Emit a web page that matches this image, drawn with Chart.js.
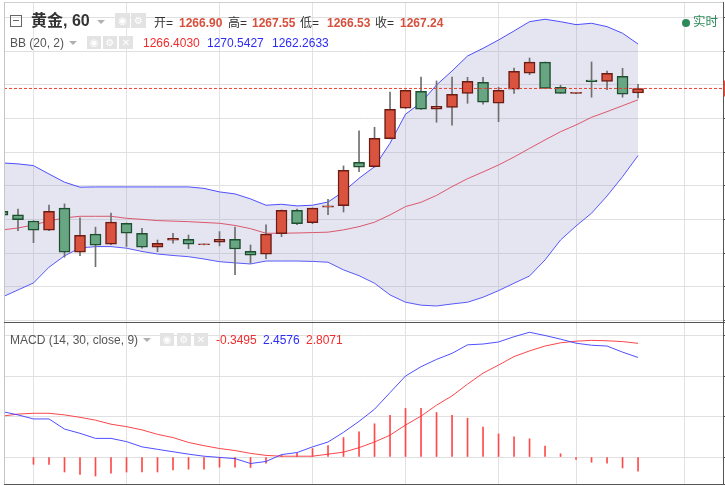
<!DOCTYPE html>
<html><head><meta charset="utf-8">
<script src="https://cdn.jsdelivr.net/npm/chart.js@4.4.0/dist/chart.umd.min.js"></script>
<style>
html,body{margin:0;padding:0;background:#fff;width:725px;height:486px;overflow:hidden;}
#wrap{position:relative;width:725px;height:486px;font-family:"Liberation Sans",Arial,"Noto Sans CJK SC",sans-serif;}
canvas{position:absolute;}
.t{position:absolute;white-space:nowrap;line-height:1;font-size:12px;color:#333;}
.ln{position:absolute;}
.ib{position:absolute;background:#e3e3e3;color:#fff;font-size:10px;line-height:14px;text-align:center;width:14px;height:14px;font-family:"DejaVu Sans",sans-serif;}
.arr{position:absolute;width:0;height:0;border-left:4px solid transparent;border-right:4px solid transparent;border-top:4px solid #b0b0b0;}
</style></head><body>
<div id="wrap">
<canvas id="main" width="721" height="320" style="left:4px;top:2px"></canvas>
<canvas id="macd" width="721" height="162" style="left:4px;top:323px"></canvas>

<div class="ln" style="left:4px;top:2px;width:719px;height:1px;background:#cfcfcf"></div>
<div class="ln" style="left:4px;top:2px;width:1px;height:483px;background:#c6c6c6"></div>
<div class="ln" style="left:4px;top:322px;width:721px;height:1px;background:#555"></div>
<div class="ln" style="left:4px;top:484px;width:721px;height:1px;background:#555"></div>

<!-- row 1 -->
<div class="ln" style="left:10px;top:15px;width:10px;height:10px;border:1px solid #666;"></div>
<div class="ln" style="left:13px;top:20px;width:6px;height:1px;background:#666;"></div>
<div class="t" style="left:31px;top:13px;font-size:16px;font-weight:bold;color:#333">黄金, 60</div>
<div class="arr" style="left:97px;top:20px"></div>
<div class="ib" style="left:115px;top:13px;width:15px;height:15px;line-height:15px">◉</div>
<div class="ib" style="left:131px;top:13px;width:15px;height:15px;line-height:15px">⚙</div>
<div class="t" style="left:154px;top:16.5px">开=</div>
<div class="t" style="left:179px;top:16.5px;font-weight:bold;color:#d6503d">1266.90</div>
<div class="t" style="left:228px;top:16.5px">高=</div>
<div class="t" style="left:252px;top:16.5px;font-weight:bold;color:#d6503d">1267.55</div>
<div class="t" style="left:300px;top:16.5px">低=</div>
<div class="t" style="left:327px;top:16.5px;font-weight:bold;color:#d6503d">1266.53</div>
<div class="t" style="left:375px;top:16.5px">收=</div>
<div class="t" style="left:400px;top:16.5px;font-weight:bold;color:#d6503d">1267.24</div>
<div class="ln" style="left:682px;top:19px;width:8px;height:8px;border-radius:50%;background:#2e8a5a"></div>
<div class="t" style="left:693px;top:16px;font-size:12.5px;color:#2e8a5a">实时</div>

<!-- row 2 -->
<div class="t" style="left:10px;top:36.5px;color:#555">BB (20, 2)</div>
<div class="arr" style="left:69px;top:41px"></div>
<div class="ib" style="left:87px;top:36px;height:13px;line-height:13px">◉</div>
<div class="ib" style="left:103px;top:36px;height:13px;line-height:13px">⚙</div>
<div class="ib" style="left:119px;top:36px;height:13px;line-height:13px">✕</div>
<div class="t" style="left:143px;top:36.5px;color:#f02c2c">1266.4030</div>
<div class="t" style="left:207px;top:36.5px;color:#2c2cf5">1270.5427</div>
<div class="t" style="left:272px;top:36.5px;color:#2c2cf5">1262.2633</div>

<!-- macd row -->
<div class="t" style="left:10px;top:334px;color:#555">MACD (14, 30, close, 9)</div>
<div class="arr" style="left:143px;top:338px"></div>
<div class="ib" style="left:160px;top:333px;height:13px;line-height:13px">◉</div>
<div class="ib" style="left:177px;top:333px;height:13px;line-height:13px">⚙</div>
<div class="ib" style="left:194px;top:333px;height:13px;line-height:13px">✕</div>
<div class="t" style="left:216px;top:334px;color:#f02c2c">-0.3495</div>
<div class="t" style="left:263px;top:334px;color:#2c2cf5">2.4576</div>
<div class="t" style="left:306px;top:334px;color:#f02c2c">2.8071</div>
</div>

<script>
// ---- data ----
const opens  = [1258.12,1257.85,1257.40,1256.71,1258.35,1255.08,1256.42,1255.67,1257.23,1256.49,1255.45,1255.97,1256.04,1255.64,1255.82,1256.04,1255.15,1254.93,1256.46,1258.20,1257.28,1258.42,1258.54,1261.76,1261.43,1263.51,1265.77,1267.03,1265.70,1265.84,1266.88,1267.70,1266.14,1267.18,1268.37,1269.19,1267.33,1266.88,1267.87,1267.77,1268.15,1266.90];
const highs  = [1258.20,1258.29,1257.42,1258.59,1258.67,1257.63,1256.94,1257.98,1257.25,1256.86,1255.99,1256.49,1256.36,1255.70,1256.61,1256.94,1255.62,1257.11,1258.22,1258.29,1258.37,1259.01,1261.49,1264.09,1264.36,1266.98,1267.13,1268.09,1267.80,1268.09,1268.07,1268.07,1267.33,1268.76,1269.50,1269.20,1267.48,1266.96,1269.21,1268.54,1268.74,1267.55];
const lows   = [1257.78,1256.68,1255.79,1256.69,1254.71,1254.83,1254.01,1255.65,1255.50,1255.38,1255.12,1255.75,1255.35,1255.62,1255.55,1253.42,1254.26,1254.60,1256.24,1257.13,1257.20,1257.87,1258.07,1261.06,1261.40,1263.50,1265.75,1265.68,1264.73,1264.51,1266.14,1266.07,1264.78,1266.88,1268.26,1267.24,1266.87,1266.86,1266.59,1267.15,1266.59,1266.53];
const closes = [1257.83,1257.50,1256.71,1258.12,1255.08,1256.34,1255.60,1257.31,1256.49,1255.45,1255.75,1256.12,1255.67,1255.70,1256.04,1255.32,1254.86,1256.42,1258.20,1257.20,1258.35,1258.52,1261.17,1261.39,1263.54,1265.70,1267.11,1265.70,1265.92,1266.81,1267.77,1266.22,1267.11,1268.52,1269.19,1267.25,1266.88,1266.96,1267.75,1268.37,1266.81,1267.24];
const bbUpper  = [1261.71,1261.64,1261.51,1260.89,1260.28,1259.91,1259.93,1259.93,1259.93,1259.93,1259.93,1259.93,1259.93,1259.82,1259.56,1259.41,1259.04,1258.57,1258.64,1258.52,1258.57,1258.81,1259.58,1260.57,1261.43,1263.17,1265.33,1266.19,1267.50,1268.54,1269.65,1270.22,1270.84,1271.51,1272.20,1272.38,1272.20,1271.98,1272.08,1271.83,1271.34,1270.54];
const bbMiddle = [1256.74,1256.88,1257.11,1257.40,1257.63,1257.75,1257.75,1257.75,1257.60,1257.52,1257.43,1257.39,1257.35,1257.29,1257.23,1257.07,1256.83,1256.49,1256.49,1256.51,1256.54,1256.57,1256.74,1256.98,1257.31,1257.85,1258.47,1258.79,1259.30,1259.95,1260.54,1261.04,1261.56,1262.15,1262.79,1263.42,1264.03,1264.53,1265.10,1265.52,1265.96,1266.40];
const bbLower  = [1251.76,1252.28,1252.80,1253.97,1254.81,1255.40,1255.50,1255.50,1255.38,1255.14,1254.95,1254.84,1254.75,1254.58,1254.38,1254.29,1254.21,1254.43,1254.43,1254.43,1254.40,1254.34,1253.77,1253.34,1252.78,1251.91,1251.37,1251.15,1251.09,1251.24,1251.37,1251.74,1252.23,1252.78,1253.32,1254.51,1255.99,1257.03,1257.98,1259.26,1260.69,1262.26];
const macdLine   = [1.12,1.04,0.94,0.94,0.69,0.585,0.46,0.46,0.38,0.25,0.19,0.13,0.07,0.02,-0.01,-0.04,-0.16,-0.11,0.06,0.11,0.25,0.37,0.61,0.88,1.18,1.59,2.00,2.23,2.41,2.56,2.77,2.79,2.84,2.97,3.08,3.00,2.91,2.81,2.76,2.74,2.59,2.4576];
const signalLine = [1.01,1.06,1.08,1.08,1.04,0.98,0.91,0.81,0.75,0.67,0.56,0.48,0.36,0.28,0.21,0.16,0.09,0.04,0.02,0.02,0.02,0.07,0.12,0.23,0.37,0.54,0.79,1.01,1.28,1.51,1.80,2.07,2.27,2.48,2.62,2.74,2.82,2.86,2.88,2.87,2.85,2.8071];
const histogram  = [null,null,-0.18,-0.18,-0.37,-0.43,-0.47,-0.40,-0.37,-0.37,-0.37,-0.32,-0.30,-0.30,-0.25,-0.25,-0.26,-0.15,0.04,0.09,0.21,0.28,0.48,0.62,0.82,1.03,1.20,1.20,1.10,1.03,0.96,0.74,0.57,0.50,0.45,0.27,0.08,-0.06,-0.13,-0.15,-0.27,-0.3495];
const lastClose = 1267.24;
const priceTicks = [1250,1252.5,1255,1257.5,1260,1262.5,1265,1267.5,1270,1272.5];
const macdTicks = [0,1,2,3];
const gridX = [2,8,14,20,26,32,37,44];

// ---- view ----
const xMin = 0.097, xMax = 46.48;
const pMin = 1249.90, pMax = 1273.66;
const mMin = -0.691, mMax = 3.309;

const UP_FILL='#d9533f', UP_LINE='#6b1d14', DN_FILL='#68a683', DN_LINE='#1d4e2e';
const idx = i => i;
const up = i => closes[i] >= opens[i];

function xScale(){
  return {type:'linear',min:xMin,max:xMax,offset:false,
    grid:{color:'#e2e2e2',drawTicks:false,offset:false},border:{display:false},
    ticks:{display:false},
    afterBuildTicks:s=>{s.ticks=gridX.map(v=>({value:v}));}};
}
function yScale(min,max,ticks){
  return {type:'linear',position:'right',min:min,max:max,
    grid:{color:'#e0e0e0',drawTicks:true,tickLength:2,tickColor:'#555'},
    border:{display:true,color:'#555'},
    ticks:{display:false},
    afterBuildTicks:s=>{s.ticks=ticks.map(v=>({value:v}));}};
}

const priceTag = {
  id:'priceTag',
  afterDraw(chart){
    const y = chart.scales.y.getPixelForValue(lastClose);
    const ctx = chart.ctx;
    ctx.save();
    ctx.fillStyle='#e04b3a';
    ctx.fillRect(chart.chartArea.right+0.5, y-8, 4, 16);
    ctx.restore();
  }
};

new Chart(document.getElementById('main'), {
  type:'bar',
  data:{datasets:[
    {type:'line',data:bbUpper.map((v,i)=>({x:idx(i),y:v})),borderColor:'rgba(60,60,255,0.9)',borderWidth:1,pointRadius:0,
      fill:'+2',backgroundColor:'rgba(150,150,205,0.25)',order:5,tension:0},
    {type:'line',data:bbMiddle.map((v,i)=>({x:idx(i),y:v})),borderColor:'rgba(240,45,55,0.9)',borderWidth:1,pointRadius:0,fill:false,order:5},
    {type:'line',data:bbLower.map((v,i)=>({x:idx(i),y:v})),borderColor:'rgba(60,60,255,0.9)',borderWidth:1,pointRadius:0,fill:false,order:5},
    {type:'bar',data:lows.map((v,i)=>({x:idx(i),y:[v,highs[i]]})),backgroundColor:'#6f6f6f',
      barThickness:1,grouped:false,borderWidth:0,order:2},
    {type:'bar',data:opens.map((v,i)=>({x:idx(i),y:[v,closes[i]]})),
      backgroundColor:c=>up(c.dataIndex)?UP_FILL:DN_FILL,
      borderColor:c=>up(c.dataIndex)?UP_LINE:DN_LINE,
      borderWidth:1.5,borderSkipped:false,barThickness:11,grouped:false,order:1},
    {type:'line',data:[{x:xMin,y:lastClose},{x:xMax,y:lastClose}],borderColor:'#e8412c',borderWidth:1,
      borderDash:[3,2],pointRadius:0,fill:false,order:0}
  ]},
  options:{responsive:false,animation:false,events:[],
    plugins:{legend:{display:false},tooltip:{enabled:false}},
    layout:{padding:0},
    scales:{x:xScale(),y:yScale(pMin,pMax,priceTicks)}},
  plugins:[priceTag]
});

new Chart(document.getElementById('macd'), {
  type:'bar',
  data:{datasets:[
    {type:'line',data:macdLine.map((v,i)=>({x:idx(i),y:v})),borderColor:'rgba(60,60,255,0.9)',borderWidth:1,pointRadius:0,fill:false,order:1},
    {type:'line',data:signalLine.map((v,i)=>({x:idx(i),y:v})),borderColor:'rgba(250,50,55,0.9)',borderWidth:1,pointRadius:0,fill:false,order:1},
    {type:'bar',data:histogram.map((v,i)=>({x:idx(i),y:v})),backgroundColor:'#ff4a4a',barThickness:1,grouped:false,borderWidth:0,order:2}
  ]},
  options:{responsive:false,animation:false,events:[],
    plugins:{legend:{display:false},tooltip:{enabled:false}},
    layout:{padding:0},
    scales:{x:xScale(),y:yScale(mMin,mMax,macdTicks)}}
});
</script>
</body></html>
